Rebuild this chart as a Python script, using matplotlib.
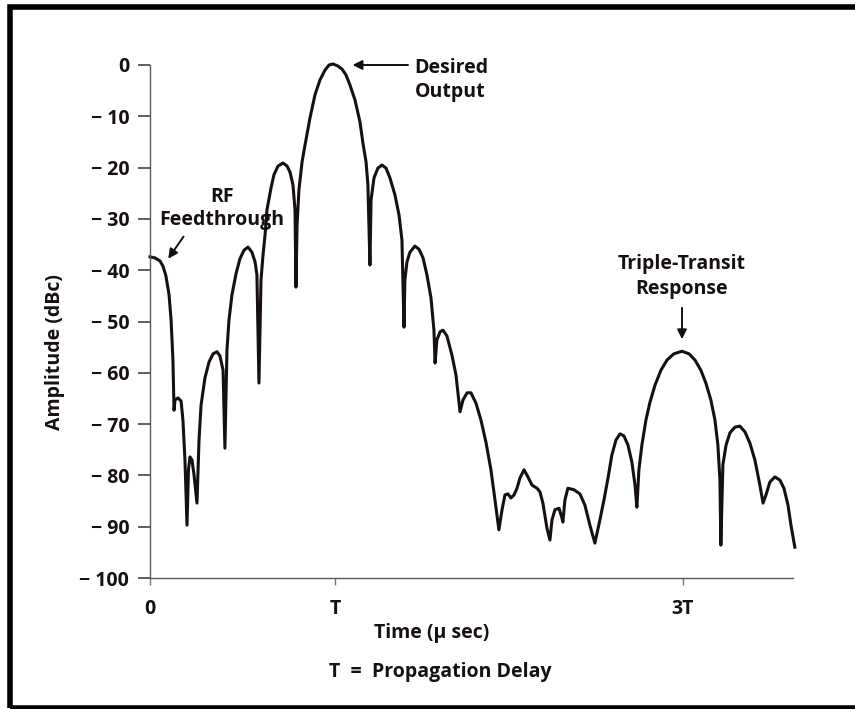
import numpy as np
import matplotlib.pyplot as plt
from matplotlib.patches import Rectangle

# --- данные (время в единицах T, амплитуда в dBc) ---
time_T = [
    0.000, 0.027, 0.054, 0.070, 0.086, 0.103, 0.114, 0.124, 0.130, 0.135,
    0.151, 0.168, 0.178, 0.189, 0.200, 0.208, 0.216, 0.227, 0.238, 0.254,
    0.265, 0.276, 0.297, 0.319, 0.341, 0.362, 0.378, 0.395, 0.405, 0.416,
    0.427, 0.443, 0.465, 0.486, 0.508, 0.530, 0.551, 0.568, 0.578, 0.589,
    0.600, 0.611, 0.622, 0.632, 0.654, 0.670, 0.692, 0.719, 0.741, 0.757,
    0.773, 0.784, 0.789, 0.795, 0.805, 0.822, 0.838, 0.865, 0.892, 0.919,
    0.946, 0.968, 0.989, 1.016, 1.038, 1.059, 1.081, 1.108, 1.135, 1.151,
    1.168, 1.178, 1.189, 1.195, 1.211, 1.232, 1.254, 1.276, 1.297, 1.324,
    1.346, 1.362, 1.373, 1.378, 1.389, 1.405, 1.432, 1.454, 1.476, 1.497,
    1.519, 1.535, 1.541, 1.551, 1.568, 1.584, 1.605, 1.632, 1.654, 1.676,
    1.692, 1.714, 1.735, 1.762, 1.789, 1.816, 1.843, 1.865, 1.886, 1.903,
    1.919, 1.935, 1.951, 1.968, 1.984, 2.000, 2.022, 2.043, 2.065, 2.092,
    2.108, 2.124, 2.146, 2.162, 2.173, 2.189, 2.211, 2.227, 2.232, 2.243,
    2.259, 2.292, 2.324, 2.351, 2.378, 2.405, 2.432, 2.454, 2.476, 2.497,
    2.519, 2.541, 2.562, 2.584, 2.605, 2.622, 2.632, 2.643, 2.659, 2.681,
    2.703, 2.730, 2.762, 2.795, 2.832, 2.876, 2.914, 2.946, 2.978, 3.005,
    3.032, 3.054, 3.070, 3.081, 3.086, 3.097, 3.114, 3.135, 3.162, 3.189,
    3.216, 3.243, 3.270, 3.297, 3.314, 3.330, 3.351, 3.378, 3.405, 3.427,
    3.449, 3.465, 3.486,
]
amp_dbc = [
    -37.4, -37.6, -38.2, -39.2, -41.1, -44.8, -49.7, -57.5, -67.3, -65.3,
    -64.9, -65.5, -69.2, -77.0, -89.7, -78.9, -76.4, -77.0, -79.9, -85.4,
    -73.1, -66.3, -61.0, -57.9, -56.3, -55.9, -56.7, -59.5, -74.7, -55.6,
    -49.7, -44.8, -40.7, -37.8, -36.1, -35.5, -36.5, -38.4, -40.9, -62.0,
    -41.9, -37.0, -33.1, -28.3, -24.0, -21.4, -19.7, -19.1, -19.7, -20.9,
    -23.4, -28.3, -43.3, -31.2, -24.4, -18.9, -15.6, -10.3, -5.8, -2.9,
    -1.0, 0.0, 0.2, -0.2, -0.8, -1.9, -3.9, -6.8, -11.1, -15.2,
    -18.9, -23.4, -39.0, -26.3, -22.0, -20.1, -19.5, -20.1, -22.0, -25.3,
    -29.2, -34.1, -51.1, -41.9, -38.4, -36.5, -35.3, -35.9, -37.6, -40.9,
    -45.4, -51.7, -58.1, -53.6, -52.0, -51.7, -52.8, -56.5, -60.4, -67.6,
    -65.3, -63.9, -63.9, -65.9, -69.2, -73.5, -78.9, -84.8, -90.6, -86.7,
    -83.8, -83.6, -84.4, -83.8, -82.5, -80.5, -78.9, -80.3, -81.9, -82.5,
    -83.2, -85.4, -90.3, -92.6, -88.7, -86.7, -86.4, -88.3, -89.1, -84.8,
    -82.5, -82.8, -83.6, -85.8, -89.7, -93.2, -88.7, -84.8, -80.5, -76.0,
    -73.1, -71.9, -72.3, -74.1, -77.4, -81.9, -86.2, -78.9, -74.1, -69.2,
    -65.7, -62.4, -59.5, -57.5, -56.3, -55.8, -56.3, -57.5, -59.5, -62.0,
    -65.3, -69.2, -74.1, -80.9, -93.6, -77.9, -74.1, -71.7, -70.6, -70.4,
    -71.5, -73.7, -77.0, -81.9, -85.4, -83.8, -81.3, -80.3, -80.9, -82.5,
    -85.8, -89.7, -94.0,
]

y_ticks = [0, -10, -20, -30, -40, -50, -60, -70, -80, -90, -100]
x_tick_pos = [0, 1.0, 2.88]
x_tick_labels = ["0", "T", "3T"]

FONT = "Open Sans"
FS = 14
INK = "#161014"

fig = plt.figure(figsize=(8.55, 7.09), dpi=100)
ax = fig.add_axes([150 / 855, 1 - 578 / 709, 643 / 855, 513 / 709])

ax.plot(time_T, amp_dbc, color=INK, lw=2.2, clip_on=False)

ax.set_xlim(0, 3.476)
ax.set_ylim(-100, 0)

for s in ["top", "right"]:
    ax.spines[s].set_visible(False)
for s in ["left", "bottom"]:
    ax.spines[s].set_color("#5a5a5a")
    ax.spines[s].set_linewidth(1.0)

ax.set_yticks(y_ticks)
ax.set_yticklabels(["0"] + ["\u2212 %d" % -v for v in y_ticks[1:]],
                   fontfamily=FONT, fontweight="bold", fontsize=FS, color=INK)
ax.tick_params(axis="y", length=9, width=1.2, color="#444444", pad=6)

ax.set_xticks(x_tick_pos)
ax.set_xticklabels(x_tick_labels, fontfamily=FONT, fontweight="bold",
                   fontsize=FS, color=INK)
ax.tick_params(axis="x", length=5, width=1.0, color="#777777", pad=10)

ax.set_ylabel("Amplitude (dBc)", fontfamily=FONT, fontweight="bold",
              fontsize=FS, color=INK, va="center")
ax.yaxis.set_label_coords(-0.1477, 0.4405)
ax.set_xlabel("Time (\u03bc sec)", fontfamily=FONT, fontweight="bold",
              fontsize=FS, color=INK, va="center")
ax.xaxis.set_label_coords(0.4386, -0.107)

# --- подписи со стрелками ---
arrow_kw = dict(arrowstyle="-|>", color="#111111", lw=1.4, mutation_scale=14)
ax.annotate("", xy=(1.08, 0.0), xytext=(1.41, 0.0), arrowprops=arrow_kw)
ax.text(1.43, -2.9, "Desired\nOutput", fontfamily=FONT, fontweight="bold",
        fontsize=FS, va="center", ha="left", linespacing=1.3, color=INK)
ax.text(0.39, -28.0, "RF\nFeedthrough", fontfamily=FONT, fontweight="bold",
        fontsize=FS, va="center", ha="center", linespacing=1.2, color=INK)
ax.annotate("", xy=(0.09, -38.2), xytext=(0.19, -33.0), arrowprops=arrow_kw)
ax.text(2.876, -41.2, "Triple-Transit\nResponse", fontfamily=FONT,
        fontweight="bold", fontsize=FS, va="center", ha="center",
        linespacing=1.3, color=INK)
ax.annotate("", xy=(2.876, -54.0), xytext=(2.876, -46.8), arrowprops=arrow_kw)

fig.text(440 / 855, 1 - 672 / 709, "T  =  Propagation Delay",
         fontfamily=FONT, fontweight="bold", fontsize=FS,
         ha="center", va="center", color=INK)

# рамка вокруг рисунка
fig.patches.append(Rectangle((9.5 / 855, 1 - 707.5 / 709), 1.2, 701 / 709,
                             transform=fig.transFigure, fill=False,
                             edgecolor="black", lw=4, clip_on=False))

fig.savefig("out.png", dpi=100, facecolor="white")
